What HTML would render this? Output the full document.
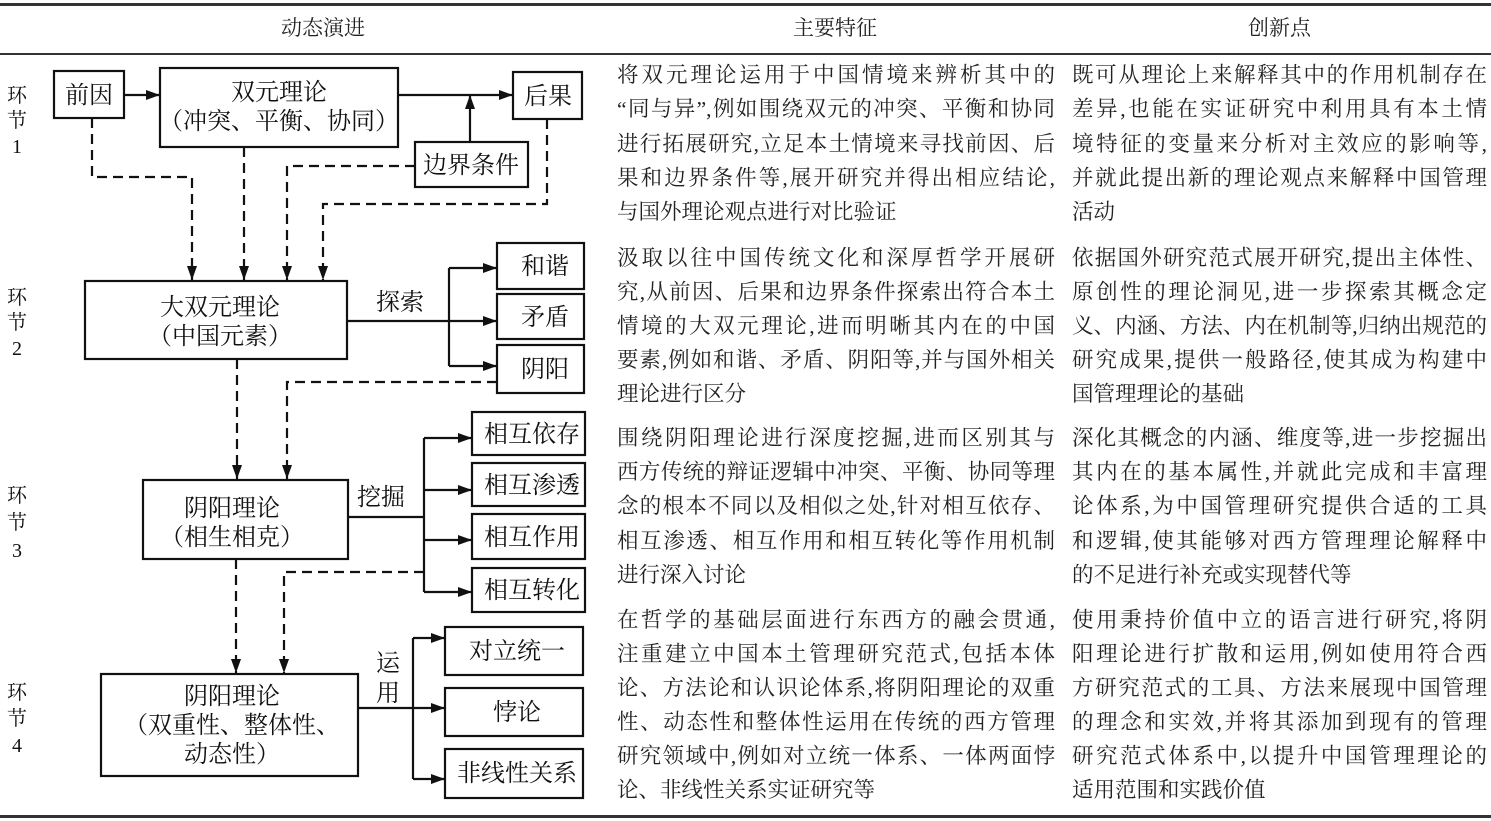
<!DOCTYPE html>
<html><head><meta charset="utf-8">
<style>
html,body{margin:0;padding:0;background:#fff;}
body{width:1491px;height:821px;position:relative;overflow:hidden;font-family:"Liberation Serif","Noto Serif CJK SC",serif;color:#222;}
.hl{position:absolute;left:0;width:1491px;background:#333;}
.l{position:absolute;height:34px;line-height:34px;font-size:21.5px;white-space:nowrap;text-align:justify;text-align-last:justify;text-justify:inter-character;}
.e{text-align-last:left;}
.c2{left:617px;width:438px;}
.c3{left:1072px;width:415px;}
.h{position:absolute;top:14px;font-size:21px;line-height:28px;}
svg{position:absolute;left:0;top:0;}
svg text{font-family:"Liberation Serif","Noto Serif CJK SC",serif;fill:#111;}
</style></head><body>
<div class="hl" style="top:3px;height:3px"></div>
<div class="hl" style="top:53px;height:2px"></div>
<div class="hl" style="top:815px;height:3px"></div>
<div class="h" style="left:281px">动态演进</div>
<div class="h" style="left:793px">主要特征</div>
<div class="h" style="left:1248px">创新点</div>

<div class="l c2" style="top:58px">将双元理论运用于中国情境来辨析其中的</div>
<div class="l c2" style="top:92px">“同与异”,例如围绕双元的冲突、平衡和协同</div>
<div class="l c2" style="top:127px">进行拓展研究,立足本土情境来寻找前因、后</div>
<div class="l c2" style="top:161px">果和边界条件等,展开研究并得出相应结论,</div>
<div class="l c2 e" style="top:195px">与国外理论观点进行对比验证</div>
<div class="l c3" style="top:58px">既可从理论上来解释其中的作用机制存在</div>
<div class="l c3" style="top:92px">差异,也能在实证研究中利用具有本土情</div>
<div class="l c3" style="top:127px">境特征的变量来分析对主效应的影响等,</div>
<div class="l c3" style="top:161px">并就此提出新的理论观点来解释中国管理</div>
<div class="l c3 e" style="top:195px">活动</div>

<div class="l c2" style="top:241px">汲取以往中国传统文化和深厚哲学开展研</div>
<div class="l c2" style="top:275px">究,从前因、后果和边界条件探索出符合本土</div>
<div class="l c2" style="top:309px">情境的大双元理论,进而明晰其内在的中国</div>
<div class="l c2" style="top:343px">要素,例如和谐、矛盾、阴阳等,并与国外相关</div>
<div class="l c2 e" style="top:377px">理论进行区分</div>
<div class="l c3" style="top:241px">依据国外研究范式展开研究,提出主体性、</div>
<div class="l c3" style="top:275px">原创性的理论洞见,进一步探索其概念定</div>
<div class="l c3" style="top:309px">义、内涵、方法、内在机制等,归纳出规范的</div>
<div class="l c3" style="top:343px">研究成果,提供一般路径,使其成为构建中</div>
<div class="l c3 e" style="top:377px">国管理理论的基础</div>

<div class="l c2" style="top:421px">围绕阴阳理论进行深度挖掘,进而区别其与</div>
<div class="l c2" style="top:455px">西方传统的辩证逻辑中冲突、平衡、协同等理</div>
<div class="l c2" style="top:489px">念的根本不同以及相似之处,针对相互依存、</div>
<div class="l c2" style="top:524px">相互渗透、相互作用和相互转化等作用机制</div>
<div class="l c2 e" style="top:558px">进行深入讨论</div>
<div class="l c3" style="top:421px">深化其概念的内涵、维度等,进一步挖掘出</div>
<div class="l c3" style="top:455px">其内在的基本属性,并就此完成和丰富理</div>
<div class="l c3" style="top:489px">论体系,为中国管理研究提供合适的工具</div>
<div class="l c3" style="top:524px">和逻辑,使其能够对西方管理理论解释中</div>
<div class="l c3 e" style="top:558px">的不足进行补充或实现替代等</div>

<div class="l c2" style="top:603px">在哲学的基础层面进行东西方的融会贯通,</div>
<div class="l c2" style="top:637px">注重建立中国本土管理研究范式,包括本体</div>
<div class="l c2" style="top:671px">论、方法论和认识论体系,将阴阳理论的双重</div>
<div class="l c2" style="top:705px">性、动态性和整体性运用在传统的西方管理</div>
<div class="l c2" style="top:739px">研究领域中,例如对立统一体系、一体两面悖</div>
<div class="l c2 e" style="top:773px">论、非线性关系实证研究等</div>
<div class="l c3" style="top:603px">使用秉持价值中立的语言进行研究,将阴</div>
<div class="l c3" style="top:637px">阳理论进行扩散和运用,例如使用符合西</div>
<div class="l c3" style="top:671px">方研究范式的工具、方法来展现中国管理</div>
<div class="l c3" style="top:705px">的理念和实效,并将其添加到现有的管理</div>
<div class="l c3" style="top:739px">研究范式体系中,以提升中国管理理论的</div>
<div class="l c3 e" style="top:773px">适用范围和实践价值</div>

<svg width="600" height="821" viewBox="0 0 600 821">
<defs>
<marker id="a" markerWidth="14" markerHeight="10" refX="14" refY="5" orient="auto" markerUnits="userSpaceOnUse"><path d="M0,0 L14,5 L0,10 z" fill="#111"/></marker>
</defs>
<g font-size="20" fill="#444" text-anchor="middle">
<text x="17" y="102">环</text><text x="17" y="127">节</text><text x="17" y="153">1</text>
<text x="17" y="304">环</text><text x="17" y="329">节</text><text x="17" y="355">2</text>
<text x="17" y="502">环</text><text x="17" y="529">节</text><text x="17" y="557">3</text>
<text x="17" y="699">环</text><text x="17" y="725">节</text><text x="17" y="752">4</text>
</g>
<g fill="none" stroke="#111" stroke-width="2.2">
<rect x="54" y="71" width="70" height="47"/>
<rect x="160" y="68" width="238" height="79"/>
<rect x="513" y="72" width="69" height="47"/>
<rect x="415" y="142" width="113" height="45"/>
<rect x="85" y="281" width="262" height="78"/>
<rect x="497" y="243" width="87" height="46"/>
<rect x="497" y="294" width="87" height="45"/>
<rect x="497" y="345" width="87" height="48"/>
<rect x="143" y="480" width="205" height="79"/>
<rect x="472" y="412" width="113" height="43"/>
<rect x="472" y="463" width="113" height="43"/>
<rect x="472" y="514" width="113" height="45"/>
<rect x="472" y="568" width="113" height="44"/>
<rect x="101" y="674" width="257" height="102"/>
<rect x="445" y="627" width="138" height="48"/>
<rect x="445" y="688" width="138" height="48"/>
<rect x="445" y="749" width="138" height="49"/>
</g>
<g fill="none" stroke="#111" stroke-width="2.2">
<line x1="124" y1="95" x2="160" y2="95" marker-end="url(#a)"/>
<line x1="398" y1="95" x2="513" y2="95" marker-end="url(#a)"/>
<line x1="470" y1="142" x2="470" y2="95" marker-end="url(#a)"/>
<line x1="347" y1="321" x2="449" y2="321"/>
<line x1="449" y1="268" x2="449" y2="366"/>
<line x1="449" y1="268" x2="497" y2="268" marker-end="url(#a)"/>
<line x1="449" y1="321" x2="497" y2="321" marker-end="url(#a)"/>
<line x1="449" y1="366" x2="497" y2="366" marker-end="url(#a)"/>
<line x1="348" y1="517" x2="424" y2="517"/>
<line x1="424" y1="438" x2="424" y2="592"/>
<line x1="424" y1="438" x2="472" y2="438" marker-end="url(#a)"/>
<line x1="424" y1="490" x2="472" y2="490" marker-end="url(#a)"/>
<line x1="424" y1="540" x2="472" y2="540" marker-end="url(#a)"/>
<line x1="424" y1="592" x2="472" y2="592" marker-end="url(#a)"/>
<line x1="358" y1="708" x2="413" y2="708"/>
<line x1="413" y1="638" x2="413" y2="779"/>
<line x1="413" y1="638" x2="445" y2="638" marker-end="url(#a)"/>
<line x1="413" y1="708" x2="445" y2="708" marker-end="url(#a)"/>
<line x1="413" y1="779" x2="445" y2="779" marker-end="url(#a)"/>
</g>
<g fill="none" stroke="#111" stroke-width="2.2" stroke-dasharray="10,6">
<polyline points="92,118 92,177 192,177 192,280" marker-end="url(#a)"/>
<polyline points="244,147 244,280" marker-end="url(#a)"/>
<polyline points="415,166 287,166 287,280" marker-end="url(#a)"/>
<polyline points="547,119 547,204 323,204 323,280" marker-end="url(#a)"/>
<polyline points="237,359 237,479" marker-end="url(#a)"/>
<polyline points="497,382 287,382 287,479" marker-end="url(#a)"/>
<polyline points="236,559 236,673" marker-end="url(#a)"/>
<polyline points="424,572 284,572 284,673" marker-end="url(#a)"/>
</g>
<g font-size="24" text-anchor="middle">
<text x="89" y="103">前因</text>
<text x="279" y="100">双元理论</text>
<text x="279" y="129">（冲突、平衡、协同）</text>
<text x="548" y="104">后果</text>
<text x="471" y="173">边界条件</text>
<text x="220" y="315">大双元理论</text>
<text x="220" y="344">（中国元素）</text>
<text x="545" y="274">和谐</text>
<text x="545" y="325">矛盾</text>
<text x="545" y="377">阴阳</text>
<text x="400" y="310">探索</text>
<text x="232" y="516">阴阳理论</text>
<text x="232" y="545">（相生相克）</text>
<text x="381" y="505">挖掘</text>
<text x="532" y="442">相互依存</text>
<text x="532" y="493">相互渗透</text>
<text x="532" y="545">相互作用</text>
<text x="532" y="598">相互转化</text>
<text x="232" y="704">阴阳理论</text>
<text x="232" y="733">（双重性、整体性、</text>
<text x="232" y="762">动态性）</text>
<text x="388" y="671">运</text>
<text x="388" y="701">用</text>
<text x="517" y="659">对立统一</text>
<text x="517" y="720">悖论</text>
<text x="517" y="781">非线性关系</text>
</g>
</svg>
</body></html>
